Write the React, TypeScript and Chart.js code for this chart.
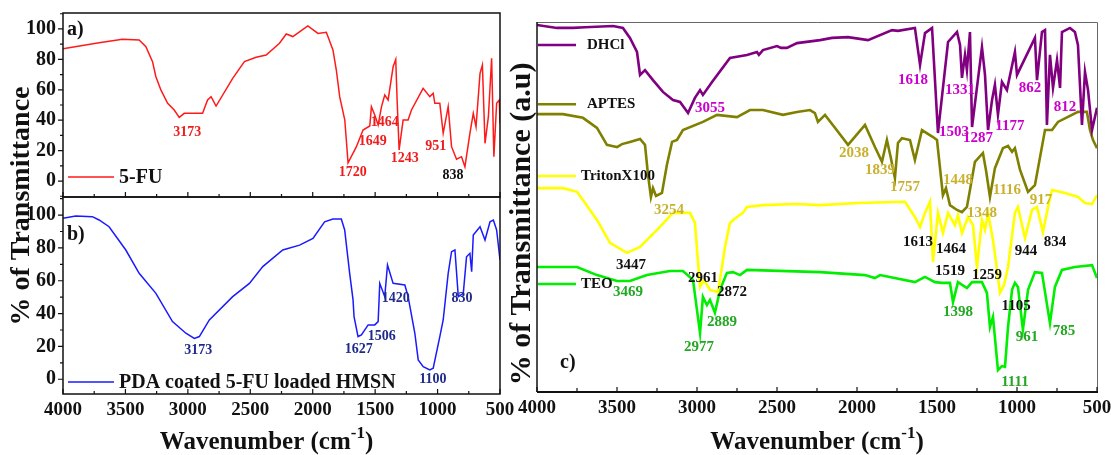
import React, { useEffect, useRef } from "react";
import { Chart, registerables } from "chart.js";
Chart.register(...registerables);

const W = 1111;
const H = 455;
const FONT = '"Liberation Serif", "Times New Roman", Times, serif';

// ---------- Panel a : 5-FU ----------
const fuWavenumber = [4000, 3711, 3524, 3390, 3336, 3283, 3256, 3216, 3162, 3109, 3069, 3029, 2882, 2842, 2814, 2774, 2641, 2547, 2453, 2373, 2266, 2212, 2159, 2092, 2039, 1958, 1891, 1838, 1811, 1784, 1743, 1717, 1650, 1597, 1543, 1530, 1503, 1476, 1449, 1423, 1396, 1356, 1335, 1324, 1308, 1276, 1236, 1209, 1116, 1062, 1035, 1022, 982, 955, 915, 888, 848, 808, 781, 741, 714, 692, 660, 641, 620, 593, 567, 549, 527, 506, 500];
const fuTransmittance = [87, 91, 93.2, 92.8, 88.4, 78.5, 68.6, 59.9, 51.1, 46.7, 41.9, 44.5, 44.5, 53.3, 55.5, 49.3, 67.5, 78.5, 81.4, 82.9, 90.6, 96.7, 95.0, 98.9, 102, 97.1, 97.8, 86.2, 73.0, 55.5, 40.1, 12, 22.6, 33.5, 36.2, 48.9, 43.4, 36.8, 48.9, 56.6, 53.3, 75.2, 80.0, 53.3, 20.4, 40.1, 40.1, 46.7, 61.0, 55.5, 57.7, 51.1, 51.1, 31.4, 48.9, 22.6, 14.3, 16.0, 9.4, 31.4, 44.5, 35.7, 70.8, 76.3, 24.8, 42.3, 80.7, 16.0, 51.1, 53.3, 38];
const fuPeaks: [string, number, number, string][] = [
  ["3173", 3005, 32.2, "#ee1c1c"], ["1720", 1680, 5.9, "#ee1c1c"], ["1649", 1519, 26.3, "#ee1c1c"],
  ["1464", 1423, 38.8, "#ee1c1c"], ["1243", 1262, 15.1, "#ee1c1c"], ["951", 1014, 23.0, "#ee1c1c"],
  ["838", 877, 3.9, "#111111"],
];

// ---------- Panel b : PDA coated 5-FU loaded HMSN ----------
const hmsnWavenumber = [4000, 3898, 3765, 3711, 3631, 3497, 3390, 3256, 3123, 3016, 2948, 2908, 2828, 2641, 2507, 2400, 2240, 2105, 1998, 1905, 1838, 1771, 1744, 1704, 1677, 1669, 1637, 1610, 1556, 1503, 1476, 1463, 1423, 1401, 1356, 1262, 1236, 1182, 1155, 1115, 1062, 1035, 982, 955, 915, 888, 861, 834, 794, 768, 741, 727, 714, 660, 620, 580, 553, 527, 500];
const hmsnTransmittance = [98, 99.4, 99.0, 97.0, 92.9, 78.7, 64.5, 52.3, 35.1, 28.0, 24.9, 26.0, 36.1, 50.3, 58.4, 68.6, 78.7, 81.7, 85.8, 95.9, 97.6, 97.6, 90.9, 64.5, 48.3, 38.1, 26.0, 27.0, 33.1, 33.1, 35.1, 58.4, 50.3, 69.6, 58.4, 57.4, 50.3, 28.0, 11.8, 7.7, 5.7, 6.7, 26.0, 36.1, 64.5, 77.7, 78.7, 50.3, 52.3, 74.6, 76.7, 65.5, 87.8, 92.9, 84.8, 95.9, 97.0, 90.9, 72.6];
const hmsnPeaks: [string, number, number, string][] = [
  ["3173", 2916, 17.8, "#1f2a8a"], ["1627", 1632, 18.4, "#1f2a8a"], ["1506", 1447, 26.3, "#1f2a8a"],
  ["1420", 1335, 49.5, "#1f2a8a"], ["830", 805, 49.5, "#1f2a8a"], ["1100", 1038, 0.2, "#1f2a8a"],
];

// ---------- Panel c ----------
const dhclWavenumber = [4000, 3875, 3775, 3700, 3525, 3463, 3419, 3375, 3356, 3325, 3275, 3213, 3150, 3106, 3056, 3013, 2981, 2963, 2906, 2794, 2688, 2625, 2613, 2588, 2500, 2475, 2438, 2375, 2231, 2156, 2056, 1931, 1781, 1744, 1638, 1606, 1575, 1531, 1494, 1431, 1375, 1356, 1344, 1325, 1313, 1294, 1281, 1219, 1200, 1181, 1156, 1138, 1119, 1094, 1063, 1013, 1000, 888, 875, 844, 825, 813, 794, 775, 750, 731, 719, 669, 638, 619, 594, 575, 556, 531, 500];
const dhclSignal = [99.2, 98.4, 98.4, 98.6, 98.9, 98.4, 95.7, 91.9, 85.7, 87.0, 84.3, 81.1, 78.9, 78.4, 75.4, 79.5, 81.6, 80.3, 83.8, 90.3, 91.1, 91.9, 91.1, 92.4, 93.5, 93.0, 93.0, 94.3, 95.1, 95.7, 95.9, 95.1, 97.8, 97.6, 98.4, 88.4, 97.0, 98.4, 70.0, 94.6, 97.3, 93.8, 84.9, 91.1, 87.0, 97.3, 71.6, 93.2, 85.7, 70.8, 78.9, 83.0, 74.9, 83.8, 81.6, 91.9, 85.7, 95.7, 84.3, 97.3, 97.8, 72.2, 91.1, 82.2, 89.7, 82.2, 97.3, 98.4, 97.3, 93.8, 72.2, 86.5, 81.6, 70.8, 76.8];

const aptesWavenumber = [4000, 3838, 3713, 3625, 3563, 3531, 3500, 3469, 3419, 3356, 3325, 3306, 3288, 3275, 3256, 3219, 3188, 3156, 3125, 3088, 2963, 2875, 2750, 2669, 2588, 2463, 2375, 2294, 2263, 2244, 2200, 2138, 2056, 1950, 1888, 1844, 1813, 1788, 1763, 1744, 1719, 1669, 1638, 1594, 1525, 1500, 1463, 1444, 1419, 1375, 1344, 1313, 1294, 1263, 1213, 1194, 1169, 1138, 1088, 1056, 1031, 1013, 981, 931, 888, 825, 781, 744, 619, 563, 544, 525, 500];
const aptesSignal = [75.1, 75.1, 74.1, 71.4, 66.8, 66.5, 66.2, 67.0, 67.6, 68.4, 66.8, 58.6, 52.7, 55.1, 53.0, 53.8, 61.4, 67.6, 68.1, 70.8, 73.0, 74.9, 74.3, 76.2, 76.2, 74.9, 75.7, 76.2, 75.4, 73.0, 74.9, 71.4, 66.8, 72.2, 66.2, 62.2, 68.1, 63.2, 57.8, 67.3, 68.6, 68.1, 62.7, 70.8, 68.9, 68.1, 53.2, 55.1, 50.5, 49.2, 48.6, 50.0, 54.6, 62.2, 64.6, 60.0, 52.7, 60.5, 65.9, 66.5, 64.9, 65.9, 60.0, 54.1, 55.9, 70.8, 70.8, 73.0, 75.7, 75.7, 70.8, 68.1, 65.9];

const tritonWavenumber = [4000, 3838, 3750, 3713, 3625, 3544, 3438, 3356, 3250, 3150, 3044, 3013, 2981, 2956, 2919, 2869, 2844, 2825, 2794, 2750, 2713, 2688, 2588, 2375, 2231, 1994, 1700, 1638, 1606, 1575, 1544, 1525, 1494, 1463, 1431, 1388, 1369, 1344, 1306, 1275, 1250, 1219, 1200, 1181, 1150, 1106, 1081, 1056, 1013, 994, 950, 906, 875, 838, 806, 781, 700, 619, 575, 531, 500];
const tritonSignal = [55.1, 55.1, 54.1, 51.9, 46.5, 40.3, 37.6, 39.2, 43.8, 48.4, 48.4, 45.7, 28.4, 30.3, 27.6, 27.0, 33.8, 39.2, 45.7, 47.3, 48.4, 50.0, 50.5, 50.8, 50.5, 51.1, 51.4, 47.3, 44.6, 48.4, 51.4, 35.1, 48.4, 43.0, 48.4, 45.1, 47.8, 43.0, 47.3, 45.1, 33.8, 46.5, 43.8, 48.4, 41.1, 26.8, 28.9, 33.8, 48.4, 50.0, 41.6, 49.2, 50.0, 43.2, 50.0, 54.6, 53.8, 52.7, 51.1, 50.8, 53.2];

const teoWavenumber = [4000, 3750, 3625, 3500, 3419, 3313, 3169, 3088, 3025, 2981, 2963, 2938, 2919, 2888, 2856, 2813, 2775, 2731, 2688, 2231, 1950, 1888, 1856, 1638, 1575, 1513, 1469, 1419, 1400, 1369, 1313, 1281, 1219, 1188, 1169, 1150, 1119, 1094, 1075, 1056, 1031, 1013, 994, 963, 931, 888, 844, 794, 763, 719, 638, 531, 500];
const teoSignal = [33.8, 33.8, 31.6, 30.0, 30.0, 31.6, 32.7, 32.7, 30.3, 15.9, 25.7, 23.5, 24.9, 21.4, 27.6, 32.2, 32.4, 31.6, 33.0, 32.4, 31.6, 30.8, 31.6, 29.7, 31.1, 29.7, 29.5, 29.5, 24.3, 29.7, 28.1, 29.7, 29.7, 26.8, 17.6, 20.3, 5.9, 7.0, 6.8, 17.6, 27.6, 29.5, 28.4, 16.8, 27.6, 32.4, 32.2, 18.6, 28.4, 33.0, 33.8, 34.3, 30.8];

const DHCL_LBL = "#cc00cc";
const APTES_LBL = "#c9b12f";
const TEO_LBL = "#22a822";
const cPeaks: [string, number, number, string][] = [
  ["3055", 2919, 76.8, DHCL_LBL], ["1618", 1650, 84.3, DHCL_LBL], ["1331", 1356, 81.6, DHCL_LBL],
  ["1503", 1394, 70.3, DHCL_LBL], ["1287", 1244, 68.6, DHCL_LBL], ["1177", 1044, 71.9, DHCL_LBL],
  ["862", 919, 82.2, DHCL_LBL], ["812", 700, 77.0, DHCL_LBL],
  ["3254", 3175, 49.2, APTES_LBL], ["2038", 2019, 64.6, APTES_LBL], ["1839", 1856, 60.0, APTES_LBL],
  ["1757", 1700, 55.4, APTES_LBL], ["1448", 1369, 57.3, APTES_LBL], ["1348", 1219, 48.4, APTES_LBL],
  ["1116", 1063, 54.6, APTES_LBL], ["917", 850, 51.9, APTES_LBL],
  ["3447", 3413, 34.3, "#111"], ["2961", 2963, 30.8, "#111"], ["2872", 2781, 27.0, "#111"],
  ["1613", 1619, 40.5, "#111"], ["1464", 1413, 38.6, "#111"], ["1519", 1419, 32.7, "#111"],
  ["1259", 1188, 31.6, "#111"], ["944", 944, 38.1, "#111"], ["834", 763, 40.5, "#111"],
  ["1105", 1006, 23.2, "#111"],
  ["3469", 3431, 27.0, TEO_LBL], ["2977", 2988, 12.2, TEO_LBL], ["2889", 2844, 18.9, TEO_LBL],
  ["1398", 1369, 21.6, TEO_LBL], ["961", 938, 14.9, TEO_LBL], ["785", 706, 16.5, TEO_LBL],
  ["1111", 1013, 2.7, TEO_LBL],
];
// legend anchor level (a.u.) for each series in panel c
const cLegendLevels = [93.8, 77.8, 58.4, 29.2];

const xTickValues = [4000, 3500, 3000, 2500, 2000, 1500, 1000, 500];
const yTickValues = [0, 20, 40, 60, 80, 100];

type Area = { l: number; t: number; r: number; b: number };

function toPoints(xs: number[], ys: number[]) {
  return xs.map((x, i) => ({ x, y: ys[i] }));
}

function drawText(ctx: CanvasRenderingContext2D, s: string, x: number, y: number, size: number, color: string, align: CanvasTextAlign = "center", baseline: CanvasTextBaseline = "middle") {
  ctx.font = `bold ${size}px ${FONT}`;
  ctx.fillStyle = color;
  ctx.textAlign = align;
  ctx.textBaseline = baseline;
  ctx.fillText(s, x, y);
}

function drawWavenumberTitle(ctx: CanvasRenderingContext2D, cx: number, baseY: number) {
  const main = `bold 25px ${FONT}`;
  const sup = `bold 17px ${FONT}`;
  ctx.font = main;
  const w1 = ctx.measureText("Wavenumber (cm").width;
  const w3 = ctx.measureText(")").width;
  ctx.font = sup;
  const w2 = ctx.measureText("-1").width;
  let x = cx - (w1 + w2 + w3) / 2;
  ctx.fillStyle = "#111";
  ctx.textAlign = "left";
  ctx.textBaseline = "alphabetic";
  ctx.font = main;
  ctx.fillText("Wavenumber (cm", x, baseY);
  x += w1;
  ctx.font = sup;
  ctx.fillText("-1", x, baseY - 11);
  x += w2;
  ctx.font = main;
  ctx.fillText(")", x, baseY);
}

function drawRotated(ctx: CanvasRenderingContext2D, s: string, x: number, y: number, size: number) {
  ctx.save();
  ctx.translate(x, y);
  ctx.rotate(-Math.PI / 2);
  drawText(ctx, s, 0, 0, size, "#111");
  ctx.restore();
}

function drawXTicks(ctx: CanvasRenderingContext2D, x: any, a: any, majorLen: number, minorLen: number) {
  ctx.strokeStyle = "#111";
  ctx.lineWidth = 1.2;
  ctx.beginPath();
  xTickValues.forEach((v, i) => {
    const px = x.getPixelForValue(v);
    ctx.moveTo(px, a.bottom);
    ctx.lineTo(px, a.bottom - majorLen);
    if (i < xTickValues.length - 1) {
      const m = x.getPixelForValue((v + xTickValues[i + 1]) / 2);
      ctx.moveTo(m, a.bottom);
      ctx.lineTo(m, a.bottom - minorLen);
    }
  });
  ctx.stroke();
}

function drawYTicks(ctx: CanvasRenderingContext2D, y: any, a: any) {
  ctx.strokeStyle = "#111";
  ctx.lineWidth = 1.2;
  ctx.beginPath();
  yTickValues.forEach((v, i) => {
    const py = y.getPixelForValue(v);
    ctx.moveTo(a.left, py);
    ctx.lineTo(a.left - 5, py);
    const m = y.getPixelForValue(v + 10);
    if (m >= a.top) {
      ctx.moveTo(a.left, m);
      ctx.lineTo(a.left - 3, m);
    }
    const mm = y.getPixelForValue(v - 10);
    if (i === 0 && mm <= a.bottom) {
      ctx.moveTo(a.left, mm);
      ctx.lineTo(a.left - 3, mm);
    }
  });
  ctx.stroke();
}

type PanelKind = "a" | "b" | "c";

function makePanelPlugin(kind: PanelKind) {
  return {
    id: "panelDecor" + kind,
    afterDraw(chart: any) {
      const ctx: CanvasRenderingContext2D = chart.ctx;
      const a = chart.chartArea;
      const x = chart.scales.x;
      const y = chart.scales.y;
      ctx.save();
      if (kind === "a" || kind === "b") {
        ctx.strokeStyle = "#111";
        ctx.lineWidth = 1.5;
        ctx.strokeRect(a.left, a.top, a.right - a.left, a.bottom - a.top);
        drawXTicks(ctx, x, a, 5, 3);
        drawYTicks(ctx, y, a);
        const ds = chart.data.datasets[0];
        const ly = kind === "a" ? a.bottom - 20 : a.bottom - 12;
        ctx.strokeStyle = ds.borderColor;
        ctx.lineWidth = 1.5;
        ctx.beginPath();
        ctx.moveTo(a.left + 5, ly);
        ctx.lineTo(a.left + 51, ly);
        ctx.stroke();
        drawText(ctx, ds.label, a.left + 56, ly + 1, 20, "#111", "left");
        drawText(ctx, kind === "a" ? "a)" : "b)", a.left + 4, kind === "a" ? a.top + 17 : a.top + 38, 20, "#111", "left");
        const peaks = kind === "a" ? fuPeaks : hmsnPeaks;
        peaks.forEach(([t, wn, v, c]) => drawText(ctx, t, x.getPixelForValue(wn), y.getPixelForValue(v), 14, c));
        if (kind === "b") {
          drawWavenumberTitle(ctx, a.left + (a.right - a.left) / 2 - 15, 449);
          drawRotated(ctx, "% of Transmittance", 22, 206, 28);
        }
      } else {
        ctx.strokeStyle = "#666";
        ctx.lineWidth = 1;
        ctx.beginPath();
        ctx.moveTo(a.left, a.top + 0.5);
        ctx.lineTo(a.right + 0.5, a.top + 0.5);
        ctx.lineTo(a.right + 0.5, a.bottom);
        ctx.stroke();
        ctx.strokeStyle = "#111";
        ctx.lineWidth = 1.5;
        ctx.beginPath();
        ctx.moveTo(a.left, a.top);
        ctx.lineTo(a.left, a.bottom);
        ctx.stroke();
        ctx.lineWidth = 2;
        ctx.beginPath();
        ctx.moveTo(a.left, a.bottom);
        ctx.lineTo(a.right + 1, a.bottom);
        ctx.stroke();
        drawXTicks(ctx, x, a, 5, 4);
        chart.data.datasets.forEach((ds: any, i: number) => {
          const ly = y.getPixelForValue(cLegendLevels[i]);
          ctx.strokeStyle = ds.borderColor;
          ctx.lineWidth = 2.5;
          ctx.beginPath();
          ctx.moveTo(a.left + 1, ly);
          ctx.lineTo(a.left + 39, ly);
          ctx.stroke();
          drawText(ctx, ds.label, a.left + 44 + (i < 2 ? 6 : 0), ly, 15, "#111", "left");
        });
        cPeaks.forEach(([t, wn, v, c]) => drawText(ctx, t, x.getPixelForValue(wn), y.getPixelForValue(v), 15, c));
        drawText(ctx, "c)", a.left + 23, a.bottom - 29, 20, "#111", "left");
        drawWavenumberTitle(ctx, a.left + (a.right - a.left) / 2, 449);
        drawRotated(ctx, "% of Transmittance (a.u)", 522, 224, 30);
      }
      ctx.restore();
    },
  };
}

function buildConfig(kind: PanelKind, area: Area, datasets: any[], yMin: number, yMax: number, showX: boolean, showY: boolean) {
  // scale boxes are sized so that the plot area lands exactly on `area`
  const xBoxHeight = showX ? H - area.b : 0;
  const yBoxWidth = showY ? area.l : 0;
  return {
    type: "line" as const,
    data: { datasets },
    plugins: [makePanelPlugin(kind)],
    options: {
      responsive: false,
      animation: false as const,
      events: [],
      layout: {
        padding: {
          left: area.l - yBoxWidth,
          top: area.t,
          right: W - area.r,
          bottom: H - area.b - xBoxHeight,
        },
      },
      plugins: { legend: { display: false }, tooltip: { enabled: false } },
      elements: { point: { radius: 0 }, line: { tension: 0 } },
      scales: {
        x: {
          type: "linear" as const,
          reverse: true,
          min: 500,
          max: 4000,
          afterFit: (s: any) => {
            s.height = xBoxHeight;
            s.paddingLeft = 0;
            s.paddingRight = 0;
          },
          afterBuildTicks: (s: any) => {
            s.ticks = xTickValues.map((v) => ({ value: v }));
          },
          grid: { display: false, drawTicks: false },
          border: { display: false },
          ticks: {
            display: showX,
            autoSkip: false,
            maxRotation: 0,
            minRotation: 0,
            padding: 5,
            color: "#111",
            font: { family: FONT, size: 19, weight: "bold" as const },
            callback: (v: any) => String(v),
          },
        },
        y: {
          type: "linear" as const,
          min: yMin,
          max: yMax,
          afterFit: (s: any) => {
            s.width = yBoxWidth;
            s.paddingTop = 0;
            s.paddingBottom = 0;
          },
          afterBuildTicks: (s: any) => {
            s.ticks = showY ? yTickValues.map((v) => ({ value: v })) : [];
          },
          grid: { display: false, drawTicks: false },
          border: { display: false },
          ticks: {
            display: showY,
            padding: 7,
            color: "#111",
            font: { family: FONT, size: 20, weight: "bold" as const },
            callback: (v: any) => String(v),
          },
        },
      },
    },
  };
}

function line(label: string, xs: number[], ys: number[], color: string, width: number) {
  return {
    label,
    data: toPoints(xs, ys),
    borderColor: color,
    backgroundColor: color,
    borderWidth: width,
    pointRadius: 0,
    fill: false,
    tension: 0,
  };
}

function useChart(ref: React.RefObject<HTMLCanvasElement | null>, make: () => any) {
  useEffect(() => {
    if (!ref.current) return;
    const chart = new Chart(ref.current, make());
    return () => chart.destroy();
  }, []);
}

const canvasStyle: React.CSSProperties = { position: "absolute", left: 0, top: 0, width: W, height: H };

export default function App() {
  const refA = useRef<HTMLCanvasElement>(null);
  const refB = useRef<HTMLCanvasElement>(null);
  const refC = useRef<HTMLCanvasElement>(null);

  useChart(refA, () =>
    buildConfig("a", { l: 63, t: 13, r: 500, b: 197 }, [line("5-FU", fuWavenumber, fuTransmittance, "#ff1a1a", 1.5)], -10.5, 110.5, false, true)
  );
  useChart(refB, () =>
    buildConfig("b", { l: 63, t: 197, r: 500, b: 394 }, [line("PDA coated 5-FU loaded HMSN", hmsnWavenumber, hmsnTransmittance, "#1a1aff", 1.5)], -9, 111, true, true)
  );
  useChart(refC, () =>
    buildConfig(
      "c",
      { l: 537, t: 22, r: 1097, b: 392 },
      [
        line("DHCl", dhclWavenumber, dhclSignal, "#800080", 2.6),
        line("APTES", aptesWavenumber, aptesSignal, "#808000", 2.6),
        line("TritonX100", tritonWavenumber, tritonSignal, "#ffff00", 2.6),
        line("TEO", teoWavenumber, teoSignal, "#00ee00", 2.6),
      ],
      0,
      100,
      true,
      false
    )
  );

  return (
    <div style={{ position: "fixed", left: 0, top: 0, width: W, height: H, background: "#fff", overflow: "hidden" }}>
      <canvas ref={refA} width={W} height={H} style={canvasStyle} />
      <canvas ref={refB} width={W} height={H} style={canvasStyle} />
      <canvas ref={refC} width={W} height={H} style={canvasStyle} />
    </div>
  );
}
